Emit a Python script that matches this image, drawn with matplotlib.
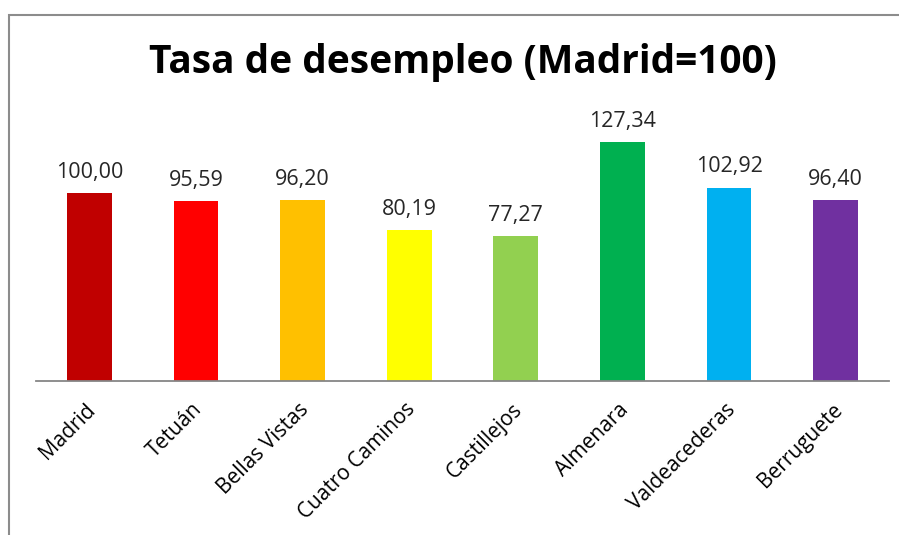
import matplotlib.pyplot as plt
from matplotlib.patches import Rectangle
from matplotlib.transforms import ScaledTranslation

plt.rcParams['font.family'] = ['Open Sans', 'DejaVu Sans']

barrios = ['Madrid', 'Tetuán', 'Bellas Vistas', 'Cuatro Caminos', 'Castillejos',
           'Almenara', 'Valdeacederas', 'Berruguete']
tasa = [100.00, 95.59, 96.20, 80.19, 77.27, 127.34, 102.92, 96.40]
colores = ['#C00000', '#FF0000', '#FFC000', '#FFFF00', '#92D050',
           '#00B050', '#00B0F0', '#7030A0']

fig = plt.figure(figsize=(8.99, 5.35), dpi=100)
ax = fig.add_axes([36 / 899, 1 - 381 / 535, 853 / 899, 263 / 535])

x = range(len(barrios))
ax.bar(x, tasa, width=0.42, color=colores)
for i, v in enumerate(tasa):
    ax.annotate(('%.2f' % v).replace('.', ','), (i, v), xytext=(0, 11),
                textcoords='offset points', ha='center', va='baseline',
                fontsize=15.5, color='#262626')

ax.set_xlim(-0.5, len(barrios) - 0.5)
ax.set_ylim(0, 140)
ax.set_yticks([])
ax.set_xticks(list(x))
ax.set_xticklabels(barrios, rotation=45, ha='right', rotation_mode='anchor', fontsize=15)
ax.tick_params(axis='x', length=0, pad=13)
desplaza = ScaledTranslation(-4 / 100, 0, fig.dpi_scale_trans)
for lab in ax.get_xticklabels():
    lab.set_transform(lab.get_transform() + desplaza)
for s in ['top', 'right', 'left']:
    ax.spines[s].set_visible(False)
ax.spines['bottom'].set_color('#868686')
ax.spines['bottom'].set_linewidth(1.3)

fig.text(463 / 899, 1 - 63 / 535, 'Tasa de desempleo (Madrid=100)', ha='center', va='center',
         fontsize=28, fontweight='bold')

# marco gris del grafico (sin borde derecho ni inferior visibles)
fig.patches.append(Rectangle((9 / 899, -0.05), 1.0, 1 - 15 / 535 + 0.05, transform=fig.transFigure,
                             fill=False, edgecolor='#8c8c8c', linewidth=1.5))

fig.savefig('out.png', dpi=100)
